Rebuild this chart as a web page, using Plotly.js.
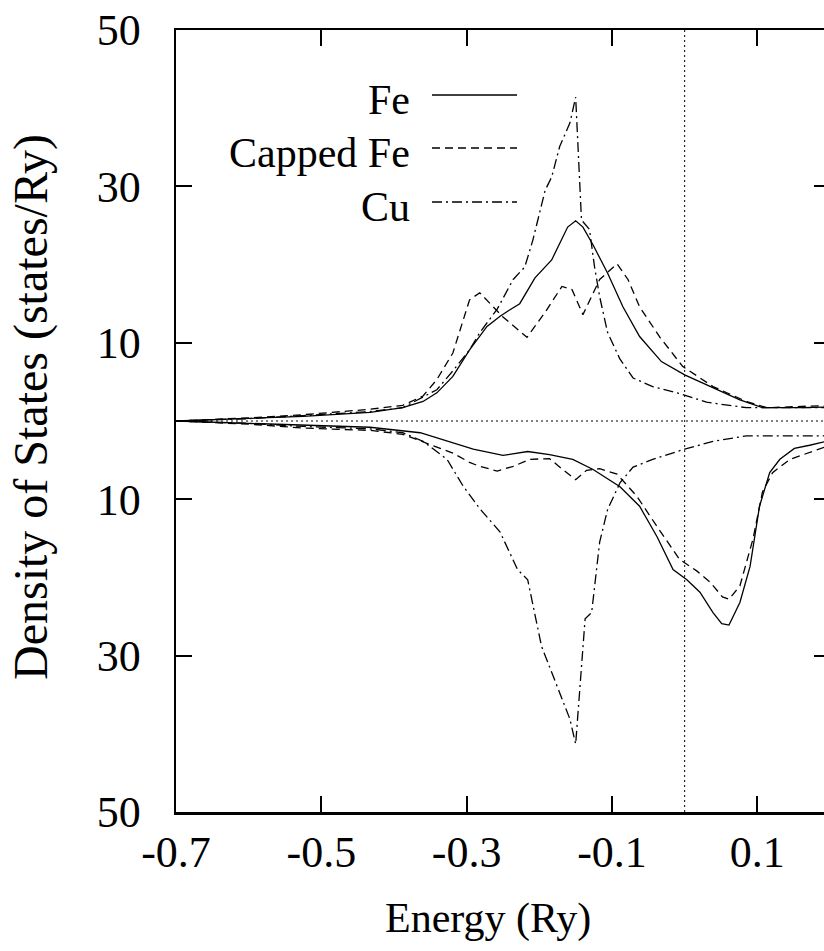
<!DOCTYPE html>
<html>
<head>
<meta charset="utf-8">
<script src="https://cdn.plot.ly/plotly-3.0.1.min.js"></script>
<style>
html,body{margin:0;padding:0;overflow:hidden;background:#fff;}
#chart{width:832px;height:951px;}
</style>
</head>
<body>
<div id="chart"></div>
<script>
// ---------- data (energy in Ry, DOS in states/Ry; spin-down stored as negative) ----------
const seriesNames = ["Fe", "Capped Fe", "Cu"];

const feUpE   = [-0.70,-0.60,-0.525,-0.433,-0.388,-0.360,-0.341,-0.319,-0.296,-0.272,-0.254,-0.241,-0.227,-0.206,-0.183,-0.161,-0.150,-0.140,-0.126,-0.106,-0.085,-0.062,-0.032,0.000,0.039,0.076,0.107,0.158,0.200];
const feUpDos = [0.0,0.3,0.6,1.1,1.7,2.5,3.6,5.7,9.1,12.1,13.4,14.2,15.0,18.3,20.6,24.8,25.6,24.8,22.5,18.9,14.6,10.8,7.6,5.9,4.3,2.7,1.7,1.7,1.8];

const cfUpE   = [-0.70,-0.60,-0.525,-0.433,-0.388,-0.360,-0.341,-0.319,-0.296,-0.282,-0.250,-0.217,-0.192,-0.169,-0.155,-0.140,-0.117,-0.093,-0.078,-0.062,-0.034,-0.003,0.039,0.085,0.113,0.160,0.200];
const cfUpDos = [0.0,0.4,0.8,1.5,2.0,3.2,5.3,8.7,15.5,16.4,13.3,10.7,13.9,17.2,16.8,13.6,18.1,20.1,18.1,14.6,10.7,7.0,4.4,2.5,1.7,1.9,2.0];

const cuUpE   = [-0.70,-0.60,-0.525,-0.433,-0.388,-0.341,-0.319,-0.296,-0.282,-0.258,-0.236,-0.220,-0.209,-0.192,-0.183,-0.172,-0.158,-0.150,-0.142,-0.131,-0.124,-0.117,-0.106,-0.089,-0.071,-0.044,-0.003,0.030,0.085,0.200];
const cuUpDos = [0.0,0.3,0.7,1.2,1.7,4.0,6.4,9.1,11.3,14.3,18.1,19.7,23.1,29.5,31.2,35.1,38.1,41.4,25.7,24.5,19.7,15.9,11.3,7.9,5.5,4.4,3.4,2.4,1.7,1.7];

const feDnE   = [-0.70,-0.60,-0.525,-0.433,-0.364,-0.319,-0.291,-0.250,-0.216,-0.186,-0.154,-0.126,-0.089,-0.062,-0.038,-0.016,0.003,0.021,0.039,0.051,0.061,0.076,0.090,0.103,0.117,0.131,0.151,0.172,0.200];
const feDnDos = [0.0,-0.3,-0.6,-0.8,-1.5,-2.8,-3.6,-4.4,-3.9,-4.3,-4.9,-6.2,-8.4,-10.9,-14.8,-19.0,-20.3,-21.9,-24.5,-25.9,-26.1,-23.2,-18.6,-10.9,-6.6,-4.9,-3.5,-3.1,-2.5];

const cfDnE   = [-0.70,-0.60,-0.525,-0.433,-0.388,-0.351,-0.319,-0.296,-0.282,-0.258,-0.236,-0.213,-0.186,-0.168,-0.150,-0.135,-0.117,-0.093,-0.066,-0.038,-0.007,0.017,0.035,0.052,0.061,0.076,0.094,0.107,0.121,0.145,0.172,0.200];
const cfDnDos = [0.0,-0.4,-0.9,-1.2,-1.7,-3.0,-4.1,-5.3,-5.8,-6.4,-5.8,-4.9,-4.8,-6.2,-7.5,-6.3,-6.1,-6.8,-9.6,-13.5,-17.7,-19.2,-20.6,-22.5,-22.8,-21.1,-15.1,-9.1,-6.6,-4.9,-4.0,-3.1];

const cuDnE   = [-0.70,-0.60,-0.525,-0.433,-0.388,-0.360,-0.327,-0.305,-0.282,-0.254,-0.230,-0.216,-0.197,-0.172,-0.158,-0.150,-0.144,-0.137,-0.128,-0.117,-0.106,-0.089,-0.071,-0.044,0.000,0.039,0.085,0.200];
const cuDnDos = [0.0,-0.3,-0.7,-1.0,-1.5,-2.6,-4.9,-8.3,-11.2,-14.2,-19.0,-20.3,-28.8,-34.7,-38.1,-41.3,-33.4,-25.3,-24.5,-15.5,-11.3,-7.9,-5.9,-4.9,-3.6,-2.6,-1.9,-1.9];

const xTickVals = [-0.7,-0.5,-0.3,-0.1,0.1];
const xTickText = ["-0.7","-0.5","-0.3","-0.1","0.1"];
const yTickVals = [-50,-30,-10,10,30,50];
const yTickText = ["50","30","10","10","30","50"];

// ---------- styling ----------
const FONT = "Liberation Serif, Times New Roman, serif";
const dashes = ["solid", "8px,5px", "10px,4px,2px,4px"];
const LW = 1.3;

// plot box in pixels
const L = 176, R = 830, T = 30, B = 812;
const W = 832, H = 951;
const xp = px => (px - L) / (R - L);
const yp = py => (B - py) / (B - T);

function tr(x, y, i) {
  return {x: x, y: y, type: "scatter", mode: "lines", name: seriesNames[i], showlegend: false,
          line: {color: "#000", width: LW, dash: dashes[i]}, hoverinfo: "skip"};
}

const data = [
  tr(feUpE, feUpDos, 0), tr(feDnE, feDnDos, 0),
  tr(cfUpE, cfUpDos, 1), tr(cfDnE, cfDnDos, 1),
  tr(cuUpE, cuUpDos, 2), tr(cuDnE, cuDnDos, 2)
];

const legendY = [95, 148, 202];
const annotations = [];
const shapes = [
  {type: "line", xref: "x", yref: "paper", x0: 0, x1: 0, y0: 0, y1: 1, line: {color: "#000", width: 1, dash: "2px,3px"}, layer: "below"},
  {type: "line", xref: "paper", yref: "y", x0: 0, x1: 1, y0: 0, y1: 0, line: {color: "#000", width: 1, dash: "2px,3px"}, layer: "below"}
];
seriesNames.forEach((n, i) => {
  annotations.push({text: n, xref: "paper", yref: "paper", x: xp(412), y: yp(legendY[i] + 5),
    xanchor: "right", yanchor: "middle", showarrow: false, font: {family: FONT, size: 42, color: "#000"}});
  shapes.push({type: "line", xref: "paper", yref: "paper", x0: xp(432), x1: xp(517), y0: yp(legendY[i]), y1: yp(legendY[i]),
    line: {color: "#000", width: LW, dash: dashes[i]}});
});
// axis titles
annotations.push({text: "Energy (Ry)", xref: "paper", yref: "paper", x: xp(488), y: yp(918),
  xanchor: "center", yanchor: "middle", showarrow: false, font: {family: FONT, size: 42, color: "#000"}});
annotations.push({text: "Density of States (states/Ry)", xref: "paper", yref: "paper", x: xp(31), y: yp(407),
  xanchor: "center", yanchor: "middle", textangle: -90, showarrow: false, font: {family: FONT, size: 48, color: "#000"}});

const layout = {
  width: W, height: H, autosize: false,
  margin: {l: L, r: W - R, t: T, b: H - B, pad: 0},
  paper_bgcolor: "#fff", plot_bgcolor: "#fff",
  font: {family: FONT, size: 42, color: "#000"},
  showlegend: false,
  xaxis: {range: [-0.7, 0.2], tickvals: xTickVals, ticktext: xTickText, ticks: "inside", ticklen: 16, tickwidth: 2,
          tickcolor: "#000", showline: true, linewidth: 2.5, linecolor: "#000", mirror: "ticks",
          showgrid: false, zeroline: false, tickfont: {family: FONT, size: 44}, ticklabelstandoff: 0},
  yaxis: {range: [-50, 50], tickvals: yTickVals, ticktext: yTickText, ticks: "inside", ticklen: 16, tickwidth: 2,
          tickcolor: "#000", showline: true, linewidth: 2.5, linecolor: "#000", mirror: "ticks",
          showgrid: false, zeroline: false, tickfont: {family: FONT, size: 44}, ticklabelstandoff: 24},
  shapes: shapes,
  annotations: annotations
};

Plotly.newPlot("chart", data, layout, {staticPlot: true, displayModeBar: false});
</script>
</body>
</html>
